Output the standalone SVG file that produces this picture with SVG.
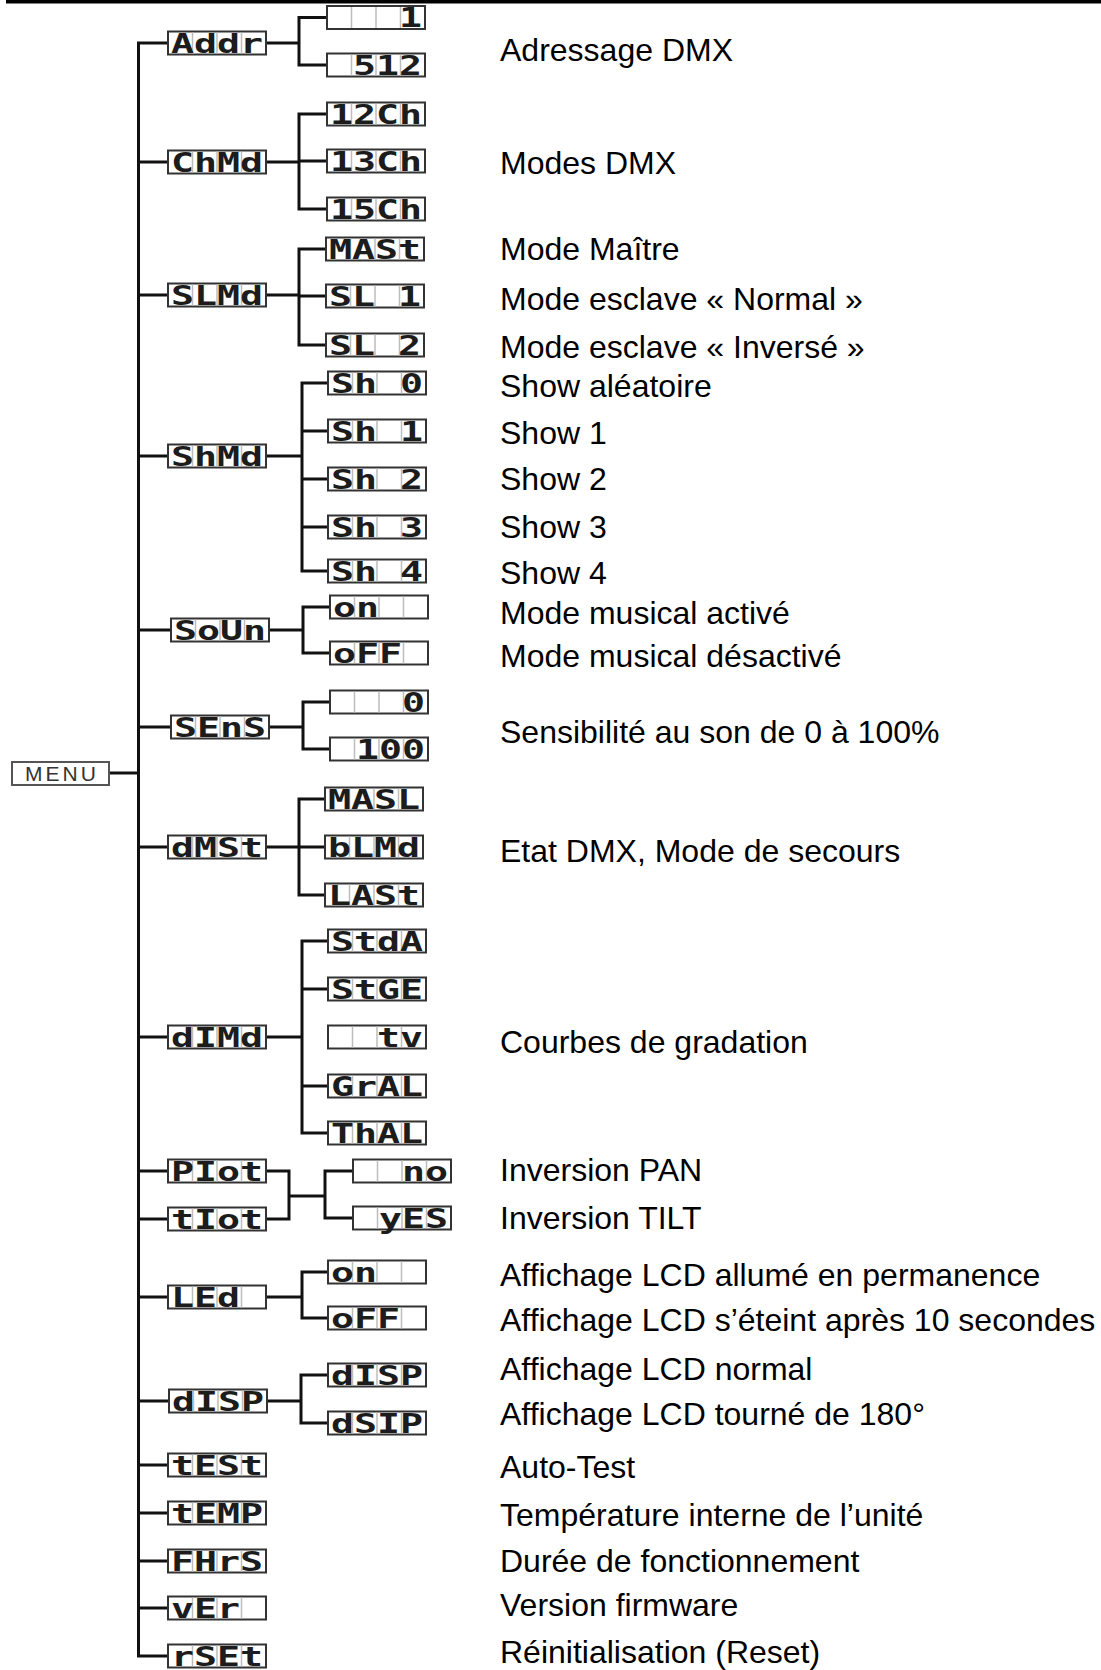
<svg xmlns="http://www.w3.org/2000/svg" xmlns:xlink="http://www.w3.org/1999/xlink" width="1101" height="1670" viewBox="0 0 1101 1670">
<style>
.ln{stroke:#111;stroke-width:3;fill:none;stroke-linejoin:miter}
.bx{fill:#fff;stroke:#333;stroke-width:2}
.dv{stroke:#bdbdbd;stroke-width:1.5}
.sg{font-family:"DejaVu Sans Mono","Liberation Mono",monospace;font-weight:bold;font-size:27px;fill:#1c1c1c}
.lb{font-family:"Liberation Sans",Arial,sans-serif;font-size:32px;fill:#000}
.mn{font-family:"Liberation Sans",Arial,sans-serif;font-size:21px;fill:#333;letter-spacing:3px}
</style>
<defs>
<g id="disp">
<rect class="bx" x="0" y="0" width="98" height="23"/>
<line class="dv" x1="24.5" y1="1" x2="24.5" y2="22"/>
<line class="dv" x1="49" y1="1" x2="49" y2="22"/>
<line class="dv" x1="73.5" y1="1" x2="73.5" y2="22"/>
</g>
</defs>
<rect x="6" y="0" width="1095" height="3.5" fill="#000"/>

<g id="connectors">
<path class="ln" d="M168 43 H138.5 V1656 H168"/>
<path class="ln" d="M109 773 H138.5"/>
<path class="ln" d="M138.5 162 H168 M138.5 295 H168 M138.5 456 H168 M138.5 630 H171 M138.5 727 H171 M138.5 847 H168 M138.5 1037 H168 M138.5 1171 H168 M138.5 1219 H168 M138.5 1297 H168 M138.5 1401 H169 M138.5 1465 H168 M138.5 1513 H168 M138.5 1561 H168 M138.5 1608 H168"/>
<path class="ln" d="M266 43 H299 M327 17.5 H299 V65 H327"/>
<path class="ln" d="M266 162 H299 M327 114 H299 V209 H327 M299 161 H327"/>
<path class="ln" d="M266 295 H299 M326 249 H299 V345 H326 M299 296 H326"/>
<path class="ln" d="M266 456 H302 M328 383 H302 V571 H328 M302 431 H328 M302 479 H328 M302 527 H328"/>
<path class="ln" d="M269 630 H303 M330 607 H303 V653 H330"/>
<path class="ln" d="M269 727 H303 M330 702 H303 V749 H330"/>
<path class="ln" d="M266 847 H299 M325 799 H299 V895 H325 M299 847 H325"/>
<path class="ln" d="M266 1037 H302 M328 941 H302 V1133 H328 M302 989 H328 M302 1086 H328"/>
<path class="ln" d="M266 1171 H289 V1219 H266 M289 1196 H325 M353 1171 H325 V1218 H353"/>
<path class="ln" d="M266 1297 H302 M328 1272 H302 V1318 H328"/>
<path class="ln" d="M267 1401 H301 M328 1375 H301 V1423 H328"/>
</g>

<g id="menu"><rect x="12" y="762" width="97" height="23" fill="#fff" stroke="#555" stroke-width="2"/><text class="mn" x="25" y="781">MENU</text></g>

<g id="n-addr"><use xlink:href="#disp" x="168" y="31.5"/><text class="sg" x="171" y="52.8" textLength="92" lengthAdjust="spacingAndGlyphs">Addr</text></g>
<g id="n-chmd"><use xlink:href="#disp" x="168" y="150.5"/><text class="sg" x="171" y="171.8" textLength="92" lengthAdjust="spacingAndGlyphs">ChMd</text></g>
<g id="n-slmd"><use xlink:href="#disp" x="168" y="283.5"/><text class="sg" x="171" y="304.8" textLength="92" lengthAdjust="spacingAndGlyphs">SLMd</text></g>
<g id="n-shmd"><use xlink:href="#disp" x="168" y="444.5"/><text class="sg" x="171" y="465.8" textLength="92" lengthAdjust="spacingAndGlyphs">ShMd</text></g>
<g id="n-soun"><use xlink:href="#disp" x="171" y="618.5"/><text class="sg" x="174" y="639.8" textLength="92" lengthAdjust="spacingAndGlyphs">SoUn</text></g>
<g id="n-sens"><use xlink:href="#disp" x="171" y="715.5"/><text class="sg" x="174" y="736.8" textLength="92" lengthAdjust="spacingAndGlyphs">SEnS</text></g>
<g id="n-dmst"><use xlink:href="#disp" x="168" y="835.5"/><text class="sg" x="171" y="856.8" textLength="92" lengthAdjust="spacingAndGlyphs">dMSt</text></g>
<g id="n-dimd"><use xlink:href="#disp" x="168" y="1025.5"/><text class="sg" x="171" y="1046.8" textLength="92" lengthAdjust="spacingAndGlyphs">dIMd</text></g>
<g id="n-piot"><use xlink:href="#disp" x="168" y="1159.5"/><text class="sg" x="171" y="1180.8" textLength="92" lengthAdjust="spacingAndGlyphs">PIot</text></g>
<g id="n-tiot"><use xlink:href="#disp" x="168" y="1207.5"/><text class="sg" x="171" y="1228.8" textLength="92" lengthAdjust="spacingAndGlyphs">tIot</text></g>
<g id="n-led"><use xlink:href="#disp" x="168" y="1285.5"/><text class="sg" x="171" y="1306.8" textLength="92" lengthAdjust="spacingAndGlyphs">LEd&#160;</text></g>
<g id="n-disp"><use xlink:href="#disp" x="169" y="1389.5"/><text class="sg" x="172" y="1410.8" textLength="92" lengthAdjust="spacingAndGlyphs">dISP</text></g>
<g id="n-test"><use xlink:href="#disp" x="168" y="1453.5"/><text class="sg" x="171" y="1474.8" textLength="92" lengthAdjust="spacingAndGlyphs">tESt</text></g>
<g id="n-temp"><use xlink:href="#disp" x="168" y="1501.5"/><text class="sg" x="171" y="1522.8" textLength="92" lengthAdjust="spacingAndGlyphs">tEMP</text></g>
<g id="n-fhrs"><use xlink:href="#disp" x="168" y="1549.5"/><text class="sg" x="171" y="1570.8" textLength="92" lengthAdjust="spacingAndGlyphs">FHrS</text></g>
<g id="n-ver"><use xlink:href="#disp" x="168" y="1596.5"/><text class="sg" x="171" y="1617.8" textLength="92" lengthAdjust="spacingAndGlyphs">vEr&#160;</text></g>
<g id="n-rset"><use xlink:href="#disp" x="168" y="1644.5"/><text class="sg" x="171" y="1665.8" textLength="92" lengthAdjust="spacingAndGlyphs">rSEt</text></g>

<g id="c-1"><use xlink:href="#disp" x="327" y="6"/><text class="sg" x="330" y="27.3" textLength="92" lengthAdjust="spacingAndGlyphs">&#160;&#160;&#160;1</text></g>
<g id="c-512"><use xlink:href="#disp" x="327" y="53.5"/><text class="sg" x="330" y="74.8" textLength="92" lengthAdjust="spacingAndGlyphs">&#160;512</text></g>
<g id="c-12ch"><use xlink:href="#disp" x="327" y="102.5"/><text class="sg" x="330" y="123.8" textLength="92" lengthAdjust="spacingAndGlyphs">12Ch</text></g>
<g id="c-13ch"><use xlink:href="#disp" x="327" y="149.5"/><text class="sg" x="330" y="170.8" textLength="92" lengthAdjust="spacingAndGlyphs">13Ch</text></g>
<g id="c-15ch"><use xlink:href="#disp" x="327" y="197.5"/><text class="sg" x="330" y="218.8" textLength="92" lengthAdjust="spacingAndGlyphs">15Ch</text></g>
<g id="c-mast"><use xlink:href="#disp" x="326" y="237.5"/><text class="sg" x="329" y="258.8" textLength="92" lengthAdjust="spacingAndGlyphs">MASt</text></g>
<g id="c-sl1"><use xlink:href="#disp" x="326" y="284.5"/><text class="sg" x="329" y="305.8" textLength="92" lengthAdjust="spacingAndGlyphs">SL&#160;1</text></g>
<g id="c-sl2"><use xlink:href="#disp" x="326" y="333.5"/><text class="sg" x="329" y="354.8" textLength="92" lengthAdjust="spacingAndGlyphs">SL&#160;2</text></g>
<g id="c-sh0"><use xlink:href="#disp" x="328" y="371.5"/><text class="sg" x="331" y="392.8" textLength="92" lengthAdjust="spacingAndGlyphs">Sh&#160;0</text></g>
<g id="c-sh1"><use xlink:href="#disp" x="328" y="419.5"/><text class="sg" x="331" y="440.8" textLength="92" lengthAdjust="spacingAndGlyphs">Sh&#160;1</text></g>
<g id="c-sh2"><use xlink:href="#disp" x="328" y="467.5"/><text class="sg" x="331" y="488.8" textLength="92" lengthAdjust="spacingAndGlyphs">Sh&#160;2</text></g>
<g id="c-sh3"><use xlink:href="#disp" x="328" y="515.5"/><text class="sg" x="331" y="536.8" textLength="92" lengthAdjust="spacingAndGlyphs">Sh&#160;3</text></g>
<g id="c-sh4"><use xlink:href="#disp" x="328" y="559.5"/><text class="sg" x="331" y="580.8" textLength="92" lengthAdjust="spacingAndGlyphs">Sh&#160;4</text></g>
<g id="c-on1"><use xlink:href="#disp" x="330" y="595.5"/><text class="sg" x="333" y="616.8" textLength="92" lengthAdjust="spacingAndGlyphs">on&#160;&#160;</text></g>
<g id="c-off1"><use xlink:href="#disp" x="330" y="641.5"/><text class="sg" x="333" y="662.8" textLength="92" lengthAdjust="spacingAndGlyphs">oFF&#160;</text></g>
<g id="c-0"><use xlink:href="#disp" x="330" y="690.5"/><text class="sg" x="333" y="711.8" textLength="92" lengthAdjust="spacingAndGlyphs">&#160;&#160;&#160;0</text></g>
<g id="c-100"><use xlink:href="#disp" x="330" y="737.5"/><text class="sg" x="333" y="758.8" textLength="92" lengthAdjust="spacingAndGlyphs">&#160;100</text></g>
<g id="c-masl"><use xlink:href="#disp" x="325" y="787.5"/><text class="sg" x="328" y="808.8" textLength="92" lengthAdjust="spacingAndGlyphs">MASL</text></g>
<g id="c-blmd"><use xlink:href="#disp" x="325" y="835.5"/><text class="sg" x="328" y="856.8" textLength="92" lengthAdjust="spacingAndGlyphs">bLMd</text></g>
<g id="c-last"><use xlink:href="#disp" x="325" y="883.5"/><text class="sg" x="328" y="904.8" textLength="92" lengthAdjust="spacingAndGlyphs">LASt</text></g>
<g id="c-stda"><use xlink:href="#disp" x="328" y="929.5"/><text class="sg" x="331" y="950.8" textLength="92" lengthAdjust="spacingAndGlyphs">StdA</text></g>
<g id="c-stge"><use xlink:href="#disp" x="328" y="977.5"/><text class="sg" x="331" y="998.8" textLength="92" lengthAdjust="spacingAndGlyphs">StGE</text></g>
<g id="c-tv"><use xlink:href="#disp" x="328" y="1025.5"/><text class="sg" x="331" y="1046.8" textLength="92" lengthAdjust="spacingAndGlyphs">&#160;&#160;tv</text></g>
<g id="c-gral"><use xlink:href="#disp" x="328" y="1074.5"/><text class="sg" x="331" y="1095.8" textLength="92" lengthAdjust="spacingAndGlyphs">GrAL</text></g>
<g id="c-thal"><use xlink:href="#disp" x="328" y="1121.5"/><text class="sg" x="331" y="1142.8" textLength="92" lengthAdjust="spacingAndGlyphs">ThAL</text></g>
<g id="c-no"><use xlink:href="#disp" x="353" y="1159.5"/><text class="sg" x="356" y="1180.8" textLength="92" lengthAdjust="spacingAndGlyphs">&#160;&#160;no</text></g>
<g id="c-yes"><use xlink:href="#disp" x="353" y="1206.5"/><text class="sg" x="356" y="1227.8" textLength="92" lengthAdjust="spacingAndGlyphs">&#160;yES</text></g>
<g id="c-on2"><use xlink:href="#disp" x="328" y="1260.5"/><text class="sg" x="331" y="1281.8" textLength="92" lengthAdjust="spacingAndGlyphs">on&#160;&#160;</text></g>
<g id="c-off2"><use xlink:href="#disp" x="328" y="1306.5"/><text class="sg" x="331" y="1327.8" textLength="92" lengthAdjust="spacingAndGlyphs">oFF&#160;</text></g>
<g id="c-disp"><use xlink:href="#disp" x="328" y="1363.5"/><text class="sg" x="331" y="1384.8" textLength="92" lengthAdjust="spacingAndGlyphs">dISP</text></g>
<g id="c-dsip"><use xlink:href="#disp" x="328" y="1411.5"/><text class="sg" x="331" y="1432.8" textLength="92" lengthAdjust="spacingAndGlyphs">dSIP</text></g>

<g id="labels">
<text class="lb" x="500" y="60.5">Adressage DMX</text>
<text class="lb" x="500" y="173.5">Modes DMX</text>
<text class="lb" x="500" y="260">Mode Maître</text>
<text class="lb" x="500" y="309.5">Mode esclave « Normal »</text>
<text class="lb" x="500" y="357.5">Mode esclave « Inversé »</text>
<text class="lb" x="500" y="397">Show aléatoire</text>
<text class="lb" x="500" y="443.5">Show 1</text>
<text class="lb" x="500" y="489.5">Show 2</text>
<text class="lb" x="500" y="537.5">Show 3</text>
<text class="lb" x="500" y="584">Show 4</text>
<text class="lb" x="500" y="623.5">Mode musical activé</text>
<text class="lb" x="500" y="667">Mode musical désactivé</text>
<text class="lb" x="500" y="742.5">Sensibilité au son de 0 à 100%</text>
<text class="lb" x="500" y="862">Etat DMX, Mode de secours</text>
<text class="lb" x="500" y="1052.5">Courbes de gradation</text>
<text class="lb" x="500" y="1180.5">Inversion PAN</text>
<text class="lb" x="500" y="1228.5">Inversion TILT</text>
<text class="lb" x="500" y="1285.5">Affichage LCD allumé en permanence</text>
<text class="lb" x="500" y="1330.5">Affichage LCD s’éteint après 10 secondes</text>
<text class="lb" x="500" y="1380">Affichage LCD normal</text>
<text class="lb" x="500" y="1425">Affichage LCD tourné de 180°</text>
<text class="lb" x="500" y="1478">Auto-Test</text>
<text class="lb" x="500" y="1525.5">Température interne de l’unité</text>
<text class="lb" x="500" y="1571.5">Durée de fonctionnement</text>
<text class="lb" x="500" y="1616">Version firmware</text>
<text class="lb" x="500" y="1663">Réinitialisation (Reset)</text>
</g>
</svg>
